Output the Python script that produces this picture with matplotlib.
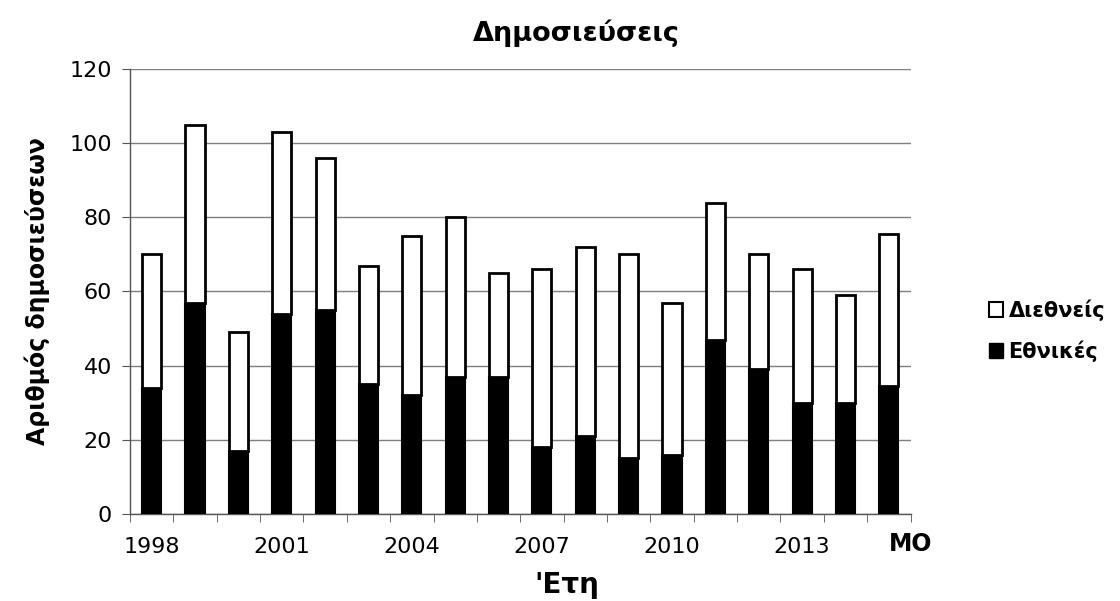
import matplotlib
matplotlib.use('Agg')
import matplotlib.pyplot as plt
from matplotlib.patches import Patch
from matplotlib.transforms import blended_transform_factory

plt.rcParams['font.family'] = ['DejaVu Sans']

# data
years = [str(y) for y in range(1998, 2015)] + ['MO']
ethnikes = [34, 57, 17, 54, 55, 35, 32, 37, 37, 18, 21, 15, 16, 47, 39, 30, 30, 34.5]
totals = [70, 105, 49, 103, 96, 67, 75, 80, 65, 66, 72, 70, 57, 84, 70, 66, 59, 75.5]
diethneis = [t - e for t, e in zip(totals, ethnikes)]
label_every = 3

fig = plt.figure(figsize=(11.2, 6.01), dpi=100)
ax = fig.add_axes([0.116, 0.145, 0.697, 0.74])

x = list(range(len(years)))
ax.bar(x, ethnikes, width=0.44, color='black', edgecolor='black', linewidth=1.5, zorder=3)
ax.bar(x, diethneis, bottom=ethnikes, width=0.44, color='white', edgecolor='black',
       linewidth=2, zorder=3)

ax.set_ylim(0, 120)
ax.set_yticks(range(0, 121, 20))
ax.set_xlim(-0.5, len(years) - 0.5)
ax.grid(axis='y', color='#7f7f7f', linewidth=1, zorder=0)

# labels only every 3 years; MO as separate text
ax.set_xticks(x[:-1:label_every])
ax.set_xticklabels(years[:-1:label_every])
ax.set_xticks([i - 0.5 for i in range(len(years) + 1)], minor=True)
ax.tick_params(axis='x', which='major', length=0, pad=17, labelsize=16)
ax.tick_params(axis='x', which='minor', length=6, direction='out', color='#555555')
ax.tick_params(axis='y', length=6, direction='out', color='#555555', labelsize=16, pad=7)

tr = blended_transform_factory(ax.transData, ax.transAxes)
ax.text(len(years) - 0.5, -0.04, years[-1], transform=tr, ha='center', va='top',
        fontsize=17, fontweight='bold')

for s in ['top', 'right']:
    ax.spines[s].set_visible(False)
for s in ['left', 'bottom']:
    ax.spines[s].set_color('#555555')
    ax.spines[s].set_linewidth(1)

ax.set_ylabel('Αριθμός δημοσιεύσεων', fontsize=17, fontweight='bold', labelpad=14)
fig.text(0.506, 0.027, "'Ετη", ha='center', va='center', fontsize=20, fontweight='bold')
fig.text(0.515, 0.945, 'Δημοσιεύσεις', ha='center', va='center', fontsize=19.5, fontweight='bold')

handles = [Patch(facecolor='white', edgecolor='black', linewidth=1.5),
           Patch(facecolor='black', edgecolor='black')]
fig.legend(handles, ['Διεθνείς', 'Εθνικές'], loc='center left', bbox_to_anchor=(0.866, 0.45),
           frameon=False, prop={'size': 15, 'weight': 'bold'},
           handlelength=0.7, handleheight=0.7, handletextpad=0.25, labelspacing=0.95)

fig.savefig('out.png', dpi=100)
